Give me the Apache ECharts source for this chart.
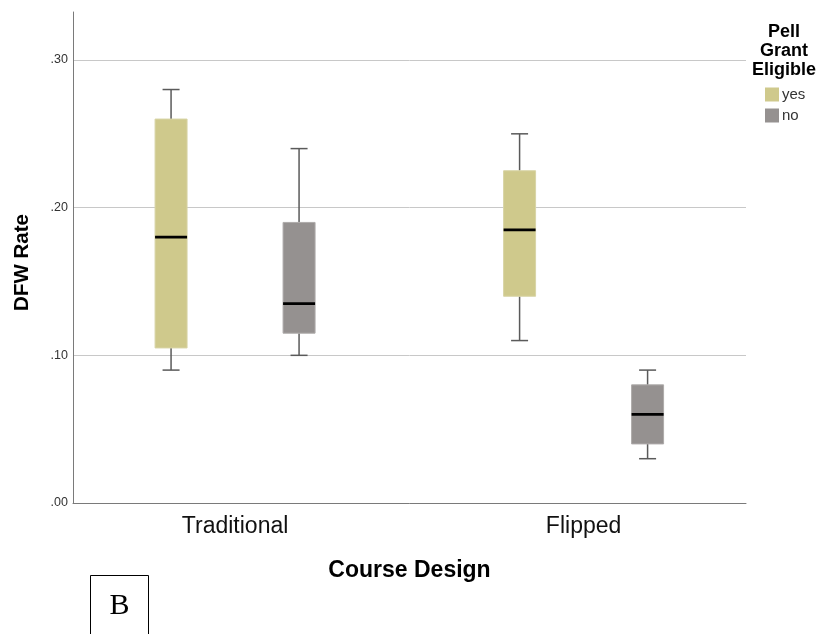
<!DOCTYPE html>
<html>
<head>
<meta charset="utf-8">
<script src="https://cdn.jsdelivr.net/npm/echarts@6/dist/echarts.min.js"></script>
<style>html,body{margin:0;padding:0;background:#fff}#c{width:822px;height:634px}</style>
</head>
<body>
<div id="c"></div>
<script>
// ---- data ----
const categories = ['Traditional', 'Flipped'];
const groups = ['yes', 'no'];
// [min, Q1, median, Q3, max] per category
const yesStats = [
  [0.09, 0.105, 0.18, 0.26, 0.28],
  [0.11, 0.14, 0.185, 0.225, 0.25]
];
const noStats = [
  [0.10, 0.115, 0.135, 0.19, 0.24],
  [0.03, 0.04, 0.06, 0.08, 0.09]
];
const yTicks = [0, 0.1, 0.2, 0.3];
const yTickLabels = ['.00', '.10', '.20', '.30'];

const FONT = "'Liberation Sans', Arial, sans-serif";
const colors = { yes: '#cfc98c', no: '#959190' };
const borders = { yes: '#d8d4a6', no: '#aeabaa' };

function toRows(stats) {
  return stats.map((s, i) => [i].concat(s));
}

function makeRender(offset, fill, stroke) {
  return function (params, api) {
    const xi = api.value(0);
    const cx = api.coord([xi, 0])[0] + offset;
    const py = v => api.coord([xi, v])[1];
    const yMin = py(api.value(1)), yQ1 = py(api.value(2)), yMed = py(api.value(3)),
          yQ3 = py(api.value(4)), yMax = py(api.value(5));
    const hw = 16, cap = 8.5;
    const wStyle = { stroke: '#5a5a5a', lineWidth: 1.5 };
    return {
      type: 'group',
      children: [
        { type: 'line', shape: { x1: cx, y1: yMax, x2: cx, y2: yQ3 }, style: wStyle },
        { type: 'line', shape: { x1: cx, y1: yQ1, x2: cx, y2: yMin }, style: wStyle },
        { type: 'line', shape: { x1: cx - cap, y1: yMax, x2: cx + cap, y2: yMax }, style: wStyle },
        { type: 'line', shape: { x1: cx - cap, y1: yMin, x2: cx + cap, y2: yMin }, style: wStyle },
        { type: 'rect', shape: { x: cx - hw, y: yQ3, width: 2 * hw, height: yQ1 - yQ3 },
          style: { fill: fill, stroke: stroke, lineWidth: 1 } },
        { type: 'line', shape: { x1: cx - hw, y1: yMed, x2: cx + hw, y2: yMed },
          style: { stroke: '#000', lineWidth: 2.7 } }
      ]
    };
  };
}

const chart = echarts.init(document.getElementById('c'), null, { renderer: 'canvas' });
chart.setOption({
  animation: false,
  backgroundColor: '#fff',
  textStyle: { fontFamily: FONT },
  grid: { left: 73, right: 76, top: 12, bottom: 131, containLabel: false },
  title: {
    text: 'Pell\nGrant\nEligible',
    left: 779, top: 18, textAlign: 'center',
    textStyle: { fontFamily: FONT, fontSize: 18, fontWeight: 'bold', lineHeight: 19, color: '#000' }
  },
  legend: {
    data: groups,
    orient: 'vertical',
    left: 765, top: 87, padding: 0,
    itemWidth: 14, itemHeight: 14, itemGap: 6,
    icon: 'rect',
    textStyle: { fontFamily: FONT, fontSize: 15, color: '#333', padding: [0, 0, 0, -2] }
  },
  xAxis: {
    type: 'value',
    min: -0.465, max: 1.466,
    name: 'Course Design',
    nameLocation: 'middle',
    nameGap: 56,
    nameTextStyle: { fontFamily: FONT, fontSize: 23, fontWeight: 'bold', color: '#000' },
    axisLine: { show: true, onZero: false, lineStyle: { color: '#7a7a7a', width: 1 } },
    axisTick: { show: false, customValues: [0, 1] },
    splitLine: { show: false },
    axisLabel: {
      customValues: [0, 1],
      formatter: v => categories[Math.round(v)],
      fontFamily: FONT, fontSize: 23, color: '#111', margin: 12
    }
  },
  yAxis: {
    type: 'value',
    min: 0, max: 0.3325,
    name: 'DFW Rate',
    nameLocation: 'middle',
    nameGap: 40,
    nameTextStyle: { fontFamily: FONT, fontSize: 20.5, fontWeight: 'bold', color: '#000', padding: [0, 10, 0, 0] },
    axisLine: { show: true, onZero: false, lineStyle: { color: '#7a7a7a', width: 1 } },
    axisTick: { show: false, customValues: yTicks },
    splitLine: { show: true, lineStyle: { color: '#c8c8c8', width: 1 } },
    axisLabel: {
      customValues: yTicks,
      formatter: v => { const i = yTicks.findIndex(t => Math.abs(t - v) < 1e-6); return i >= 0 ? yTickLabels[i] : ''; },
      fontFamily: FONT, fontSize: 12.5, color: '#333', margin: 5
    }
  },
  series: [
    {
      name: 'yes', type: 'custom',
      itemStyle: { color: colors.yes },
      data: toRows(yesStats),
      encode: { x: 0, y: [1, 2, 3, 4, 5] },
      renderItem: makeRender(-64, colors.yes, borders.yes)
    },
    {
      name: 'no', type: 'custom',
      itemStyle: { color: colors.no },
      data: toRows(noStats),
      encode: { x: 0, y: [1, 2, 3, 4, 5] },
      renderItem: makeRender(64, colors.no, borders.no)
    }
  ],
  graphic: [
    { type: 'rect', shape: { x: 90.5, y: 575.5, width: 58, height: 70 },
      style: { fill: 'none', stroke: '#000', lineWidth: 1 } },
    { type: 'text', x: 119.5, y: 606,
      style: { text: 'B', font: "30px 'Liberation Serif', 'Times New Roman', serif", fill: '#000',
               textAlign: 'center', textVerticalAlign: 'middle' } }
  ]
});
</script>
</body>
</html>
